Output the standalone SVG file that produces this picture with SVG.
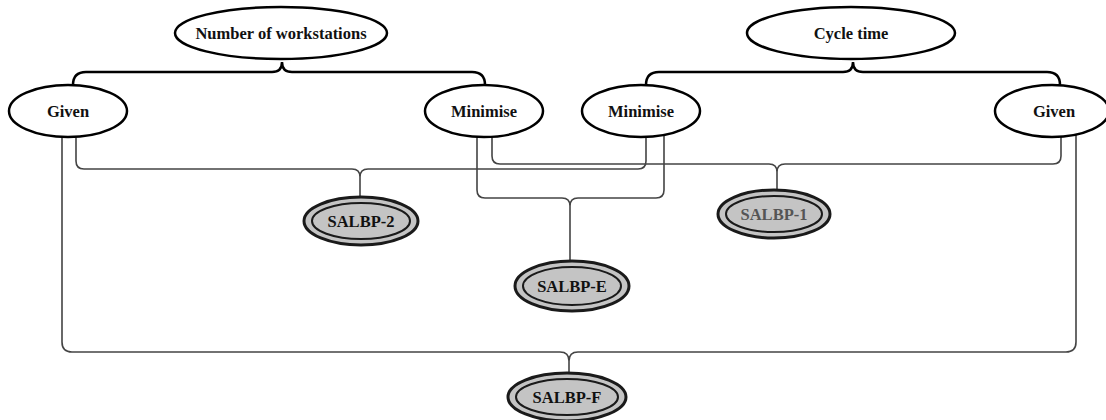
<svg xmlns="http://www.w3.org/2000/svg" width="1106" height="420" viewBox="0 0 1106 420">
<style>
.top{fill:#fff;stroke:#000;stroke-width:2.5}
.res-o{fill:#c4c4c4;stroke:#1a1a1a;stroke-width:3}
.res-i{fill:none;stroke:#1a1a1a;stroke-width:2}
.brace{fill:none;stroke:#000;stroke-width:2.5}
.conn{fill:none;stroke:#444;stroke-width:1.6}
.t{font-family:'Liberation Serif','Times New Roman',Tinos,'DejaVu Serif',serif;font-weight:bold;font-size:16.5px;text-anchor:middle;fill:#111}
</style>
<rect width="1106" height="420" fill="#fff"/>
<g id="connectors">
<path class="brace" d="M73,85 Q73,72 86,72 L272,72 Q282,72 282,62 Q282,72 292,72 L472,72 Q485,72 485,85"/>
<path class="brace" d="M646,85 Q646,72 659,72 L843,72 Q853,72 853,62 Q853,72 863,72 L1047,72 Q1060,72 1060,85"/>
<path class="conn" d="M76,137 L76,161 Q76,169 84,169 L352,169 Q360,169 360,177 L360,197 M360,177 Q360,169 368,169 L638,169 Q646,169 646,161 L646,137"/>
<path class="conn" d="M492,137 L492,156 Q492,164 500,164 L769,164 Q777,164 777,172 L777,191 M777,172 Q777,164 785,164 L1053,164 Q1061,164 1061,156 L1061,137"/>
<path class="conn" d="M477,137 L477,190 Q477,198 485,198 L562,198 Q570,198 570,206 L570,261 M570,206 Q570,198 578,198 L656,198 Q664,198 664,190 L664,135"/>
<path class="conn" d="M62,137 L62,342 Q62,352 72,352 L560,352 Q569,352 569,361 L569,374 M569,361 Q569,352 578,352 L1066,352 Q1076,352 1076,342 L1076,135"/>
</g>
<g id="n-workstations"><ellipse class="top" cx="281" cy="33" rx="106" ry="26"/><text class="t" font-family="Liberation Serif, serif" x="281" y="39">Number of workstations</text></g>
<g id="n-cycle"><ellipse class="top" cx="851" cy="33" rx="104" ry="26"/><text class="t" font-family="Liberation Serif, serif" x="851" y="39">Cycle time</text></g>
<g id="n-given-l"><ellipse class="top" cx="68" cy="111" rx="59" ry="26"/><text class="t" font-family="Liberation Serif, serif" x="68" y="117">Given</text></g>
<g id="n-min-l"><ellipse class="top" cx="484" cy="111" rx="59" ry="26"/><text class="t" font-family="Liberation Serif, serif" x="484" y="117">Minimise</text></g>
<g id="n-min-r"><ellipse class="top" cx="641" cy="111" rx="59" ry="26"/><text class="t" font-family="Liberation Serif, serif" x="641" y="117">Minimise</text></g>
<g id="n-given-r"><ellipse class="top" cx="1052" cy="111" rx="57" ry="26"/><text class="t" font-family="Liberation Serif, serif" x="1054" y="117">Given</text></g>
<g id="n-salbp2"><ellipse class="res-o" cx="361" cy="221" rx="57" ry="24"/><ellipse class="res-i" cx="361" cy="221" rx="49" ry="18"/><text class="t" font-family="Liberation Serif, serif" x="361" y="227">SALBP-2</text></g>
<g id="n-salbp1"><ellipse class="res-o" cx="774" cy="214" rx="56" ry="24"/><ellipse class="res-i" cx="774" cy="214" rx="48" ry="18"/><text class="t" font-family="Liberation Serif, serif" x="774" y="220" style="fill:#555">SALBP-1</text></g>
<g id="n-salbpe"><ellipse class="res-o" cx="572" cy="286" rx="57" ry="25"/><ellipse class="res-i" cx="572" cy="286" rx="49" ry="19"/><text class="t" font-family="Liberation Serif, serif" x="572" y="292">SALBP-E</text></g>
<g id="n-salbpf"><ellipse class="res-o" cx="567" cy="397" rx="59" ry="24"/><ellipse class="res-i" cx="567" cy="397" rx="51" ry="18"/><text class="t" font-family="Liberation Serif, serif" x="567" y="403">SALBP-F</text></g>
</svg>
